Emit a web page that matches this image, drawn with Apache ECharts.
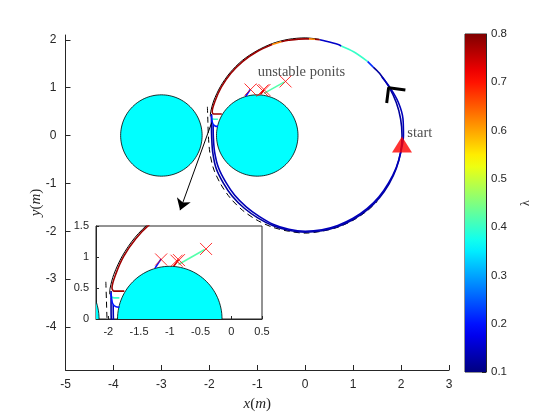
<!DOCTYPE html>
<html><head><meta charset="utf-8">
<script src="https://cdn.jsdelivr.net/npm/echarts@6/dist/echarts.min.js"></script>
<style>html,body{margin:0;padding:0;background:#fff}#c{width:560px;height:420px}</style>
</head><body><div id="c"></div>
<script>
// ---- data ----
const xTicksMain = [-5,-4,-3,-2,-1,0,1,2,3];
const yTicksMain = [-4,-3,-2,-1,0,1,2];
const xTicksInset = [-2,-1.5,-1,-0.5,0,0.5];
const yTicksInset = [0,0.5,1,1.5];
const cbTicks = [0.1,0.2,0.3,0.4,0.5,0.6,0.7,0.8];

// obstacles: [cx, cy, r]
const obstacles = [[-3,0,0.85],[-1,0,0.85]];

// trajectory segments with their lambda value
const loopOuter = [[-1.955,0.45],[-1.955,0.2],[-1.95,-0.05],[-1.93,-0.34],[-1.86,-0.68],[-1.71,-0.99],[-1.52,-1.27],[-1.27,-1.52],[-0.99,-1.72],[-0.68,-1.88],[-0.35,-1.98],[0,-2.02],[0.35,-1.99],[0.69,-1.90],[1.01,-1.75],[1.30,-1.55],[1.55,-1.30],[1.75,-1.01],[1.90,-0.69],[1.99,-0.35],[2.02,0],[1.99,0.35],[1.90,0.69],[1.75,1.01],[1.55,1.30],[1.42,1.43]];
const loopInner = [[-1.92,0.23],[-1.915,-0.05],[-1.89,-0.34],[-1.81,-0.67],[-1.66,-0.97],[-1.47,-1.25],[-1.23,-1.49],[-0.96,-1.69],[-0.66,-1.86],[-0.34,-1.96],[0,-2.0],[0.35,-1.97],[0.68,-1.88],[1.0,-1.73],[1.29,-1.53],[1.54,-1.28],[1.74,-0.99],[1.90,-0.67],[2.0,-0.33],[2.05,0],[2.04,0.35],[1.94,0.7],[1.77,1.0],[1.6,1.22]];
const topBlue = [[1.42,1.43],[1.3,1.55]];
const topCyan = [[1.3,1.55],[1.01,1.75],[0.75,1.87]];
const topNavy = [[0.75,1.87],[0.69,1.9],[0.35,1.99],[0.3,2.0]];
const topDark = [[0.3,2.0],[0.2,2.01]];
const topOrange1 = [[0.2,2.01],[0.08,2.02]];
const topRed = [[0.08,2.02],[0,2.02],[-0.35,1.99],[-0.5,1.96]];
const topOrange2 = [[-0.5,1.96],[-0.69,1.9]];
const leftRed = [[-0.69,1.9],[-1.01,1.75],[-1.30,1.55],[-1.55,1.30],[-1.75,1.01],[-1.88,0.72],[-1.94,0.5],[-1.91,0.45],[-1.8,0.45],[-1.74,0.45]];
const hookCyan = [[-1.96,0.36],[-1.9,0.34],[-1.82,0.34]];
const hookBlue = [[-1.955,0.42],[-1.93,0.25],[-1.88,0.2],[-1.82,0.19]];
const unstBlue = [[-1.24,0.82],[-1.14,0.97]];
const unstRed = [[-0.93,0.86],[-0.86,0.95]];
const unstCyan = [[-0.86,0.88],[-0.43,1.12]];
const segLambda = {
  loopOuter:0.12, loopInner:0.14, topBlue:0.22, topCyan:0.4, topNavy:0.15, topDark:0.78,
  topOrange1:0.62, topRed:0.78, topOrange2:0.62, leftRed:0.78, hookCyan:0.4, hookBlue:0.2,
  unstBlue:0.2, unstRed:0.75, unstCyan:0.42
};
const segData = {loopOuter, loopInner, topBlue, topCyan, topNavy, topDark, topOrange1, topRed, topOrange2, leftRed, hookCyan, hookBlue, unstBlue, unstRed, unstCyan};

const blackEdge = [[0.3,2.01],[0,2.04],[-0.35,2.01],[-0.69,1.92],[-1.01,1.77],[-1.31,1.57],[-1.57,1.31],[-1.77,1.02],[-1.91,0.72],[-1.97,0.5],[-1.98,0.4]];
const dashedRef = [[-2.04,0.6],[-2.03,0.3],[-2.02,0],[-1.99,-0.35],[-1.91,-0.7],[-1.76,-1.02],[-1.56,-1.31],[-1.31,-1.56],[-1.02,-1.76],[-0.7,-1.91],[-0.35,-2.0],[0,-2.04],[0.35,-2.0],[0.7,-1.91],[1.02,-1.76],[1.31,-1.56],[1.5,-1.38]];
const chevron = [[2.09,0.95],[1.74,1.0],[1.70,0.68]];
const zoomArrow = [[-1.95,0.27],[-2.61,-1.56]];
const unstablePoints = [[-1.14,0.96],[-0.89,0.94],[-0.85,0.95],[-0.41,1.13]];
const startPoint = [[2.02,-0.19]];
const textUnstable = [[-0.99,1.32]];
const textStart = [[2.13,0.05]];
const lambdaRange = [0.1,0.8];

// ---- helpers ----
function jet(v){
  const t=(v-lambdaRange[0])/(lambdaRange[1]-lambdaRange[0]);
  const c=x=>Math.round(255*Math.max(0,Math.min(1,x)));
  const r=c(Math.min(4*t-1.5,-4*t+4.5)), g=c(Math.min(4*t-0.5,-4*t+3.5)), b=c(Math.min(4*t+0.5,-4*t+2.5));
  return 'rgb('+r+','+g+','+b+')';
}
const series=[];
function addBoth(make){ [0,1].forEach(g=>{ const s=make(g); s.xAxisIndex=g; s.yAxisIndex=g; series.push(s); }); }

// obstacles
addBoth(g=>({
  type:'custom', z:1, data:obstacles, silent:true,
  renderItem:(params,api)=>{
    const cx=api.value(0), cy=api.value(1), r=api.value(2), pts=[];
    for(let k=0;k<=120;k++){const a=2*Math.PI*k/120; pts.push(api.coord([cx+r*Math.cos(a), cy+r*Math.sin(a)]));}
    const cs=params.coordSys;
    return {type:'polygon', shape:{points:pts}, style:{fill:'#00ffff', stroke:'#000', lineWidth:0.8},
      clipPath:{type:'rect', shape:{x:cs.x, y:cs.y, width:cs.width, height:cs.height}}};
  }
}));
const SM = 0.3;
// dashed reference
addBoth(g=>({type:'line', z:2, data:dashedRef, showSymbol:false, smooth:SM, lineStyle:{color:'#000', width:1, type:[6,4]}, silent:true}));
// black edge
addBoth(g=>({type:'line', z:2, data:blackEdge, showSymbol:false, smooth:SM, lineStyle:{color:'#000', width:1}, silent:true}));
// coloured trajectory segments
Object.keys(segData).forEach(k=>{
  addBoth(g=>({type:'line', z:3, data:segData[k], showSymbol:false, smooth:SM, lineStyle:{color:jet(segLambda[k]), width:1.6}, silent:true}));
});
// unstable points
addBoth(g=>({type:'scatter', z:6, data:unstablePoints, symbol:'path://M0,0L10,10M10,0L0,10', symbolSize:12,
  itemStyle:{color:'rgba(0,0,0,0)', borderColor:'#ff0000', borderWidth:1}, silent:true}));

// main-only items
series.push({type:'line', xAxisIndex:0, yAxisIndex:0, z:7, data:chevron, showSymbol:false, lineStyle:{color:'#000', width:3}, silent:true});
series.push({type:'lines', coordinateSystem:'cartesian2d', xAxisIndex:0, yAxisIndex:0, z:7, symbol:['none','arrow'], symbolSize:11,
  data:[{coords:zoomArrow}], lineStyle:{color:'#000', width:1, opacity:1}, silent:true});
series.push({type:'scatter', xAxisIndex:0, yAxisIndex:0, z:8, data:startPoint, symbol:'triangle', symbolSize:[20,16], itemStyle:{color:'#ff0000'}, silent:true});
series.push({type:'scatter', xAxisIndex:0, yAxisIndex:0, z:8, data:textUnstable, symbolSize:0, silent:true,
  label:{show:true, position:'right', distance:0, formatter:'unstable ponits', fontFamily:'Liberation Serif', fontSize:14.5, color:'#222'}});
series.push({type:'scatter', xAxisIndex:0, yAxisIndex:0, z:8, data:textStart, symbolSize:0, silent:true,
  label:{show:true, position:'right', distance:0, formatter:'start', fontFamily:'Liberation Serif', fontSize:14.5, color:'#222'}});
// colour bar
series.push({type:'custom', xAxisIndex:2, yAxisIndex:2, data:[[0,lambdaRange[0]]], silent:true,
  renderItem:(params,api)=>{
    const p0=api.coord([0,lambdaRange[1]]), p1=api.coord([1,lambdaRange[0]]);
    const stops=[]; for(let i=0;i<=28;i++){const v=lambdaRange[0]+(lambdaRange[1]-lambdaRange[0])*i/28; stops.push({offset:i/28, color:jet(v)});}
    return {type:'rect', shape:{x:p0[0], y:p0[1], width:p1[0]-p0[0], height:p1[1]-p0[1]},
      style:{fill:new echarts.graphic.LinearGradient(0,1,0,0,stops)}};
  }});

const lbl = {color:'#262626', fontFamily:'Liberation Sans'};
const axLine = {show:true, onZero:false, lineStyle:{color:'#262626', width:1}};
const serifRich = {i:{fontStyle:'italic', fontFamily:'Liberation Serif', fontSize:15, color:'#262626'}};

const option = {
  animation:false,
  backgroundColor:'#fff',
  grid:[
    {left:65.5, top:35, width:383.5, height:335, outerBoundsMode:'none'},
    {left:96, top:226, width:166, height:93, show:true, backgroundColor:'#fff', borderColor:'#262626', borderWidth:1, outerBoundsMode:'none'},
    {left:465, top:34, width:21, height:338, show:true, borderColor:'#262626', borderWidth:1, outerBoundsMode:'none'}
  ],
  xAxis:[
    {gridIndex:0, type:'value', min:-5, max:3, interval:1, axisLine:axLine, splitLine:{show:false},
     axisTick:{inside:true, length:5, lineStyle:{color:'#262626'}}, axisLabel:Object.assign({fontSize:12, margin:9}, lbl),
     name:'{i|x}(​{i|m})', nameLocation:'middle', nameGap:27, nameTextStyle:{fontFamily:'Liberation Serif', fontSize:15, color:'#262626', rich:serifRich}},
    {gridIndex:1, type:'value', min:-2.2, max:0.5, axisLine:axLine, splitLine:{show:false},
     axisTick:{inside:true, length:3, customValues:xTicksInset, lineStyle:{color:'#262626'}},
     axisLabel:Object.assign({fontSize:11, margin:7, customValues:xTicksInset}, lbl)},
    {gridIndex:2, type:'value', min:0, max:1, show:false}
  ],
  yAxis:[
    {gridIndex:0, type:'value', min:-4.9, max:2.1, axisLine:axLine, splitLine:{show:false},
     axisTick:{inside:true, length:5, customValues:yTicksMain, lineStyle:{color:'#262626'}},
     axisLabel:Object.assign({fontSize:12, margin:9, customValues:yTicksMain}, lbl),
     name:'{i|y}(​{i|m})', nameLocation:'middle', nameGap:22, nameMoveOverlap:false, nameRotate:90, nameTextStyle:{fontFamily:'Liberation Serif', fontSize:15, color:'#262626', rich:serifRich}},
    {gridIndex:1, type:'value', min:0, max:1.5, axisLine:axLine, splitLine:{show:false},
     axisTick:{inside:true, length:3, customValues:yTicksInset, lineStyle:{color:'#262626'}},
     axisLabel:Object.assign({fontSize:11, margin:7, customValues:yTicksInset}, lbl)},
    {gridIndex:2, type:'value', position:'right', min:0.1, max:0.8, axisLine:axLine, splitLine:{show:false},
     axisTick:{inside:true, length:4, customValues:cbTicks, lineStyle:{color:'#262626'}},
     axisLabel:Object.assign({fontSize:11.5, margin:5, customValues:cbTicks, formatter:v=>v.toFixed(1)}, lbl),
     name:'λ', nameLocation:'middle', nameGap:34, nameRotate:90, nameTextStyle:{fontFamily:'Liberation Serif', fontSize:12, color:'#262626'}}
  ],
  series:series
};
echarts.init(document.getElementById('c')).setOption(option);
</script></body></html>
